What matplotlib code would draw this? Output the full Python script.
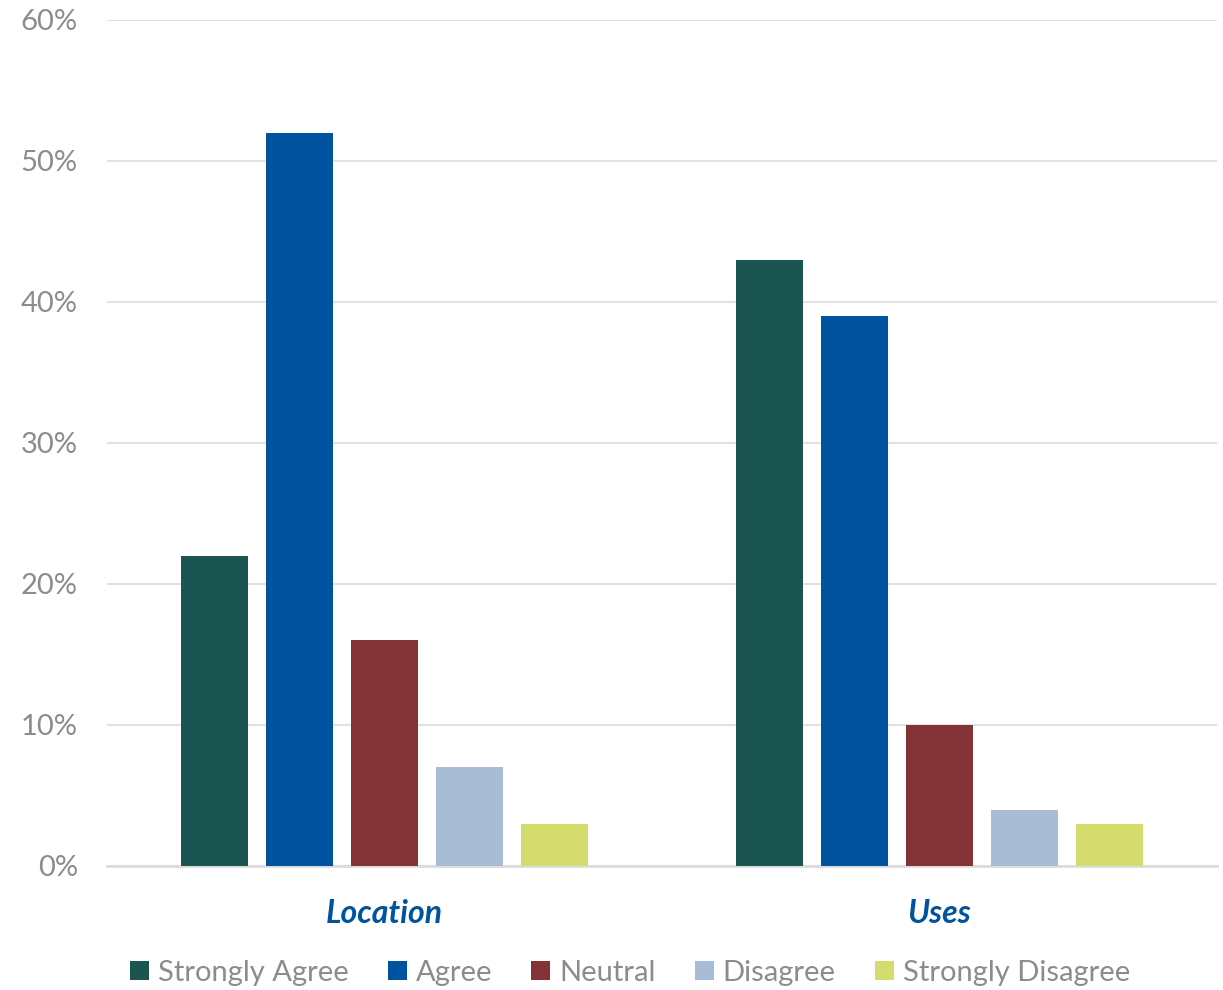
import numpy as np
import matplotlib
matplotlib.use('Agg')
import matplotlib.pyplot as plt
from matplotlib.ticker import PercentFormatter

plt.rcParams['font.family'] = ['Lato', 'DejaVu Sans']

categories = ['Location', 'Uses']
series = ['Strongly Agree', 'Agree', 'Neutral', 'Disagree', 'Strongly Disagree']
strongly_agree = [22, 43]
agree = [52, 39]
neutral = [16, 10]
disagree = [7, 4]
strongly_disagree = [3, 3]
colors = ['#1B5552', '#00539F', '#833236', '#A9BCD5', '#D4DC6E']

fig = plt.figure(figsize=(12.23, 9.90), dpi=100)
ax = fig.add_axes([0.0875, 0.1253, 0.9075, 0.8545])

x = np.arange(len(categories))
width = 0.121
step = 0.153
data = [strongly_agree, agree, neutral, disagree, strongly_disagree]
for i, (name, vals, c) in enumerate(zip(series, data, colors)):
    ax.bar(x + (i - 2) * step, vals, width, color=c, label=name, zorder=3)

ax.set_xlim(-0.5, 1.5)
ax.set_ylim(0, 60)
ax.set_yticks(range(0, 61, 10))
ax.yaxis.set_major_formatter(PercentFormatter(decimals=0))
ax.grid(axis='y', color='#E2E2E2', linewidth=1.5, zorder=0)
for s in ['top', 'right', 'left']:
    ax.spines[s].set_visible(False)
ax.spines['bottom'].set_color('#DCDCDC')
ax.spines['bottom'].set_linewidth(2)
ax.tick_params(axis='y', length=0, labelsize=21, labelcolor='#8C8C8C', pad=21)
ax.set_xticks(x)
ax.set_xticklabels(categories, fontsize=23, fontweight='bold', fontstyle='italic', color='#00539F')
ax.tick_params(axis='x', length=0, pad=24)

leg = fig.legend(loc='lower center', ncol=5, frameon=False, fontsize=21,
                 bbox_to_anchor=(0.515, -0.022), handlelength=0.65, handleheight=0.65,
                 handletextpad=0.3, columnspacing=1.35)
for t in leg.get_texts():
    t.set_color('#8C8C8C')

fig.savefig('out.png')
